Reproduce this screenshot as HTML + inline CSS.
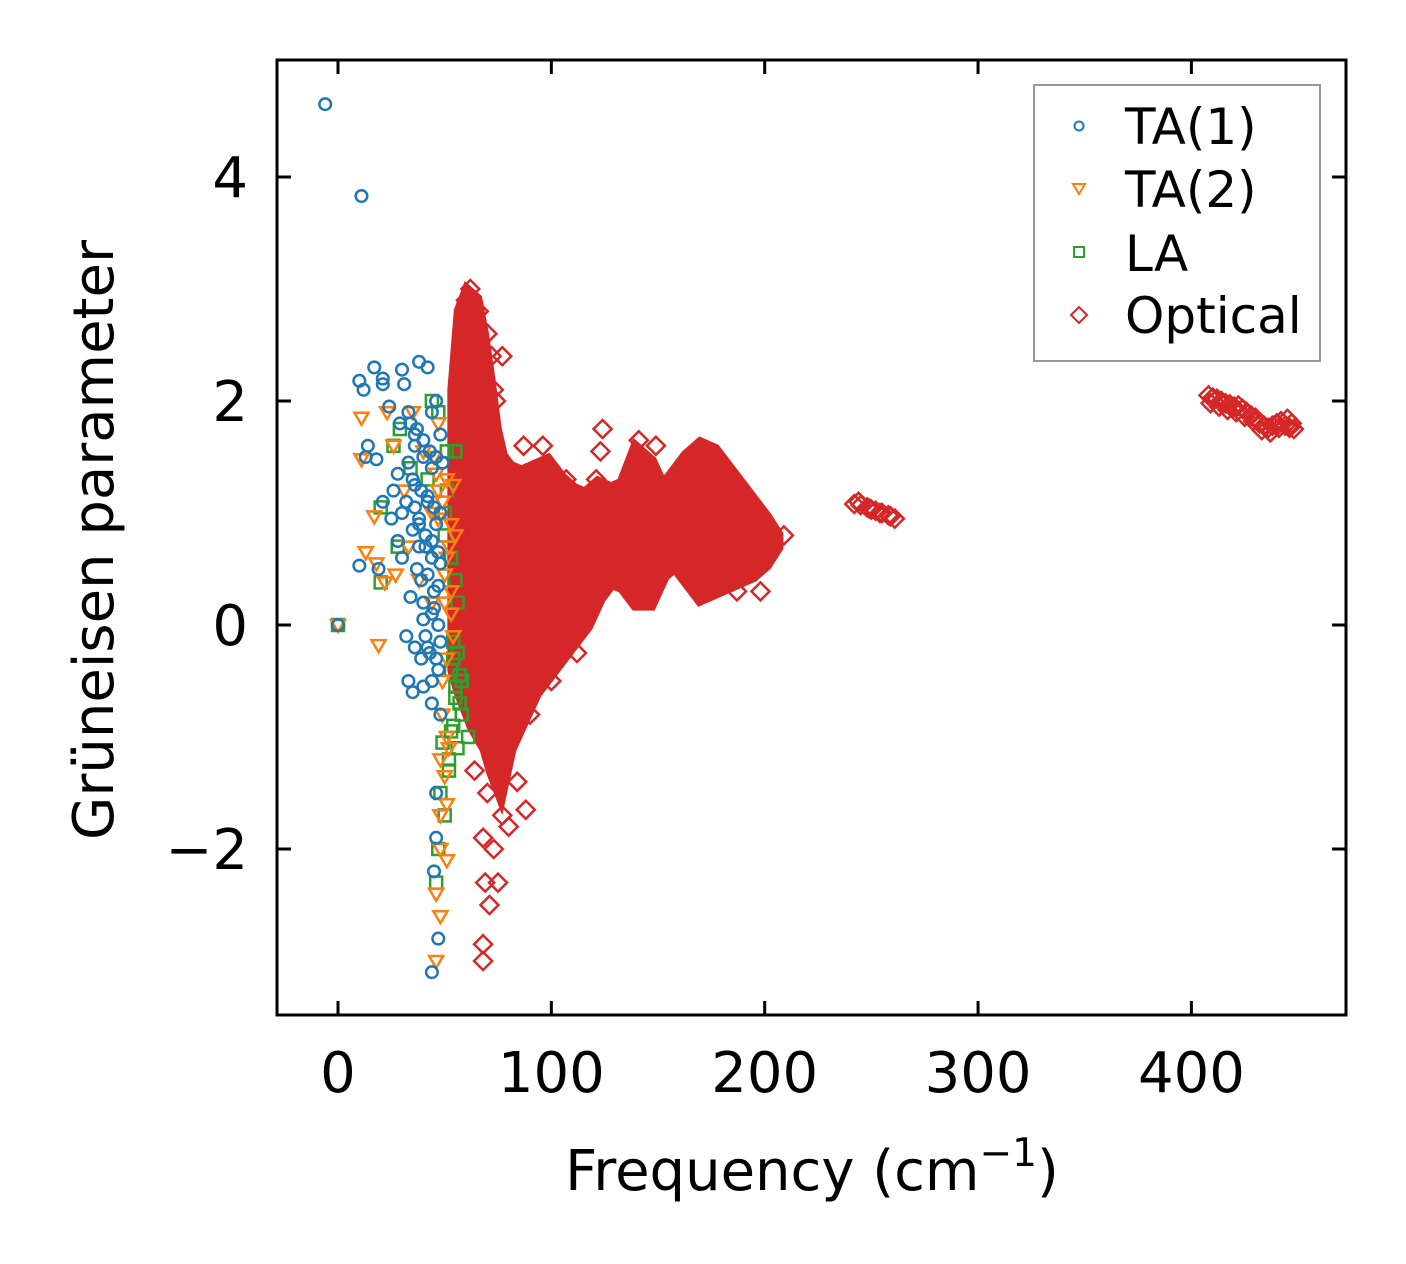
<!DOCTYPE html>
<html><head><meta charset="utf-8"><style>
html,body{margin:0;padding:0;background:#fff;}
svg{display:block;font-family:"DejaVu Sans","Liberation Sans",sans-serif;}
</style></head><body>
<svg id="chart" width="1406" height="1264" viewBox="0 0 1406 1264" xmlns="http://www.w3.org/2000/svg">
<rect width="1406" height="1264" fill="#fff"/>
<g id="marks"></g>
<rect x="277" y="60" width="1069" height="955" fill="none" stroke="#000" stroke-width="3"/>
<g id="ticks"></g>
<text x="812" y="1190" font-size="56" text-anchor="middle">Frequency (cm<tspan dy="-24" font-size="39">−1</tspan><tspan dy="24">)</tspan></text>
<text transform="translate(113,540) rotate(-90)" font-size="56" text-anchor="middle">Grüneisen parameter</text>
<g>
<rect x="1034" y="85" width="286" height="276" fill="#fff" stroke="#999" stroke-width="2"/>
<circle cx="1079" cy="126" r="4.5" fill="none" stroke="#1f77b4" stroke-width="2"/>
<text x="1125" y="144" font-size="50">TA(1)</text>
<path d="M1073,184 L1085,184 L1079,194 Z" fill="none" stroke="#ff7f0e" stroke-width="2"/>
<text x="1125" y="207" font-size="50">TA(2)</text>
<rect x="1074" y="247" width="10" height="10" fill="none" stroke="#2ca02c" stroke-width="2"/>
<text x="1125" y="271" font-size="50">LA</text>
<path d="M1079,307 L1087,315 L1079,323 L1071,315 Z" fill="none" stroke="#d62728" stroke-width="2"/>
<text x="1125" y="333" font-size="50">Optical</text>
</g>
</svg>
<script>
const xTicks=[0,100,200,300,400];
const yTicks=[-2,0,2,4];
const yTickLabels=["−2","0","2","4"];
const ta1X=[-6,11,10,17,21,21,30,31,12,14,13,18,21,24,29,33,36,38,42,46,40,35,28,30,25,36,42,46,38,44,48,34,40,44,10,19,32,36,39,42,46,33,35,40,44,47,44,48,46,46,45,47,44,0,38,44,48,26,33,41,45,47,41,28,30,39,
34,37,40,43,46,49,36,39,42,45,48,35,38,41,44,47,32,37,42,47,40,45,43,48,36,44];
const ta1Y=[4.65,3.83,2.18,2.3,2.2,2.15,2.28,2.15,2.1,1.6,1.5,1.48,1.1,1.95,1.8,1.9,1.7,2.35,2.3,2.0,1.5,1.3,1.35,1.0,0.95,1.05,1.1,0.9,0.7,0.6,0.55,0.25,0.2,0.1,0.53,0.5,-0.1,-0.2,-0.3,-0.2,-0.3,-0.5,-0.6,-0.55,-0.5,-0.4,-0.7,-0.8,-1.5,-1.9,-2.2,-2.8,-3.1,0,0.9,1.4,1.7,1.2,1.45,0.8,0.3,0.0,-0.1,0.75,0.6,0.4,
1.8,1.75,1.65,1.55,1.5,1.45,1.25,1.2,1.15,1.05,1.0,0.85,0.95,0.7,0.75,0.65,1.1,0.5,0.45,0.35,0.05,0.15,-0.25,-0.15,1.6,1.9];
const ta2X=[11,11,17,13,18,22,19,23,26,31,35,40,44,47,51,54,53,55,51,53,54,51,49,48,50,51,48,51,46,48,46,0,27,33,38,44,47,
45,49,52,50,47,53,49,51,48,52,46,50];
const ta2Y=[1.85,1.48,0.97,0.65,0.55,0.38,-0.18,1.9,1.6,1.2,1.9,1.55,1.0,1.2,1.3,1.25,0.9,0.8,0.6,0.3,-0.1,-0.3,-0.8,-1.2,-1.35,-1.6,-2.0,-2.1,-2.4,-2.6,-3.0,0,0.45,0.7,0.4,0.2,1.8,
1.5,1.1,0.7,0.45,0.95,0.1,-0.5,-1.0,-1.7,-1.1,1.35,0.2];
const laX=[0,20,20,28,26,29,34,44,47,51,55,50,53,56,54,57,55,58,61,56,49,52,48,50,47,46,54,58,53,50,42,
55,57,53,56,52,54,55,51];
const laY=[0,0.38,1.05,0.7,1.6,1.75,1.4,2.0,1.9,1.55,1.55,1.0,0.6,0.2,-0.3,-0.45,-0.65,-0.8,-1.0,-1.1,-1.05,-1.3,-1.5,-1.7,-2.0,-2.3,-0.9,-0.5,-0.4,0.8,1.3,
-0.55,-0.7,-0.95,-0.25,-1.2,-0.15,0.4,1.2];
// dense optical band envelope (frequency, upper, lower)
const optBandX=[55,58,61,64,67,70,73,76,80,86,92,98,104,110,116,122,128,134,140,146,152,158,164,170,176,182,188,194,200,205];
const optBandHi=[2.1,2.8,2.95,2.9,2.6,2.2,1.75,1.5,1.4,1.35,1.4,1.45,1.3,1.2,1.15,1.25,1.2,1.25,1.55,1.45,1.2,1.35,1.5,1.6,1.55,1.4,1.25,1.1,0.95,0.8];
const optBandLo=[-0.4,-0.6,-0.75,-0.9,-1.0,-1.1,-1.3,-1.45,-1.1,-0.85,-0.6,-0.45,-0.3,-0.15,0.0,0.25,0.4,0.35,0.2,0.2,0.45,0.55,0.4,0.25,0.3,0.35,0.4,0.45,0.55,0.7];
const optX=[70,72,77,74,68,87,96,107,124,123,121,141,149,203,209,198,187,70,68,73,69,75,71,68,68,84,88,80,77,64,90,100,112,73,66,60,62,
242,245,248,250,252,255,258,261,244,249,254,259,
408,410,412,414,416,418,420,422,424,426,428,430,432,434,436,438,440,442,444,446,448,409,413,417,421,425,429,433,437,441,445,447];
const optY=[2.6,2.4,2.4,2.0,1.8,1.6,1.6,1.3,1.75,1.55,1.3,1.65,1.6,0.82,0.8,0.3,0.3,-1.5,-1.9,-2.0,-2.3,-2.3,-2.5,-2.85,-3.0,-1.4,-1.65,-1.8,-1.7,-1.3,-0.8,-0.5,-0.25,2.1,2.8,2.9,3.0,
1.08,1.07,1.05,1.03,1.02,1.0,0.98,0.95,1.1,1.04,1.0,0.97,
2.05,2.03,2.02,2.0,1.98,1.97,1.95,1.96,1.93,1.9,1.87,1.85,1.8,1.78,1.76,1.78,1.8,1.82,1.78,1.76,1.75,1.98,1.95,1.92,1.9,1.86,1.82,1.74,1.72,1.76,1.84,1.8];

const X=v=>338+v*2.1335, Y=v=>625-v*112;
const NS="http://www.w3.org/2000/svg";
const marks=document.getElementById('marks'), ticks=document.getElementById('ticks');
function mk(tag,attrs,parent){const e=document.createElementNS(NS,tag);for(const k in attrs)e.setAttribute(k,attrs[k]);parent.appendChild(e);return e;}

let d="M"+optBandX.map((x,i)=>X(x)+","+Y(optBandHi[i])).join(" L");
for(let i=optBandX.length-1;i>=0;i--) d+=" L"+X(optBandX[i])+","+Y(optBandLo[i]);
const band=mk('path',{d:d+"Z",fill:"#d62728",stroke:"#d62728","stroke-width":16,"stroke-linejoin":"miter"},marks);


optX.forEach((x,i)=>{const cx=X(x),cy=Y(optY[i]);
 const e=mk('path',{d:`M${cx},${cy-9}L${cx+9},${cy}L${cx},${cy+9}L${cx-9},${cy}Z`,fill:"none",stroke:"#d62728","stroke-width":2.5},marks);
 
 });
laX.forEach((x,i)=>{const cx=X(x),cy=Y(laY[i]);
 const e=mk('rect',{x:cx-6,y:cy-6,width:12,height:12,fill:"none",stroke:"#2ca02c","stroke-width":2.5},marks);
 
 });
ta2X.forEach((x,i)=>{const cx=X(x),cy=Y(ta2Y[i]);
 const e=mk('path',{d:`M${cx-7},${cy-5}L${cx+7},${cy-5}L${cx},${cy+7}Z`,fill:"none",stroke:"#ff7f0e","stroke-width":2.5},marks);
 
 });
ta1X.forEach((x,i)=>{
 const e=mk('circle',{cx:X(x),cy:Y(ta1Y[i]),r:5.8,fill:"none",stroke:"#1f77b4","stroke-width":2.5},marks);
 
 });

xTicks.forEach(v=>{const x=X(v);
 mk('line',{x1:x,x2:x,y1:1015,y2:1001,stroke:"#000","stroke-width":3},ticks);
 mk('line',{x1:x,x2:x,y1:60,y2:74,stroke:"#000","stroke-width":3},ticks);
 const t=mk('text',{x:x,y:1092,"font-size":56,"text-anchor":"middle"},ticks);t.textContent=v;
 
 });
yTicks.forEach((v,i)=>{const y=Y(v);
 mk('line',{x1:277,x2:291,y1:y,y2:y,stroke:"#000","stroke-width":3},ticks);
 mk('line',{x1:1346,x2:1332,y1:y,y2:y,stroke:"#000","stroke-width":3},ticks);
 const t=mk('text',{x:248,y:y+20,"font-size":56,"text-anchor":"end"},ticks);t.textContent=yTickLabels[i];
 
 });
</script>
</body></html>
